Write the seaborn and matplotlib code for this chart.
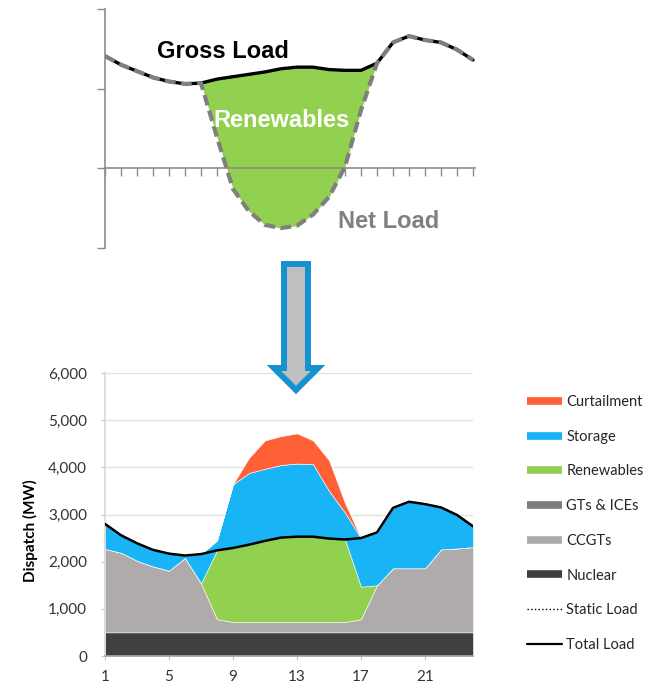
import numpy as np
import pandas as pd
import matplotlib
matplotlib.use('Agg')
import matplotlib.pyplot as plt
from matplotlib.patches import Polygon
from matplotlib.lines import Line2D
import seaborn as sns

# hours of the day
hours = list(range(1, 25))

# schematic (top) - normalised load
gross_load = [1.41, 1.30, 1.22, 1.14, 1.09, 1.06, 1.07, 1.12, 1.15, 1.18, 1.21, 1.25,
              1.27, 1.27, 1.24, 1.23, 1.23, 1.32, 1.58, 1.66, 1.61, 1.58, 1.49, 1.36]
net_load = [1.41, 1.30, 1.22, 1.14, 1.09, 1.06, 1.07, 0.39, -0.26, -0.54, -0.71, -0.75,
            -0.72, -0.58, -0.36, 0.02, 0.73, 1.32, 1.58, 1.66, 1.61, 1.58, 1.49, 1.36]

# dispatch (bottom) in MW
nuclear = [500] * 24
gts_ices = [0] * 24
ccgt = [1770, 1690, 1520, 1400, 1310, 1580, 1040, 280, 220, 220, 220, 220,
        220, 220, 220, 220, 280, 1000, 1360, 1360, 1360, 1760, 1780, 1810]
renewables = [0, 0, 0, 0, 0, 0, 0, 1460, 1570, 1640, 1720, 1790,
              1810, 1810, 1770, 1750, 690, 0, 0, 0, 0, 0, 0, 0]
storage = [530, 370, 370, 350, 360, 50, 620, 210, 1350, 1520, 1530, 1540,
           1550, 1540, 1010, 570, 1030, 1120, 1280, 1410, 1360, 890, 710, 440]
curtailment = [0, 0, 0, 0, 0, 0, 0, 0, 0, 320, 600, 610,
               640, 500, 650, 200, 0, 0, 0, 0, 0, 0, 0, 0]
static_load = [2800, 2560, 2390, 2250, 2170, 2130, 2160, 2240, 2290, 2360, 2440, 2510,
               2530, 2530, 2490, 2470, 2500, 2620, 3140, 3270, 3220, 3150, 2990, 2750]
total_load = [2800, 2560, 2390, 2250, 2170, 2130, 2160, 2240, 2290, 2360, 2440, 2510,
              2530, 2530, 2490, 2470, 2500, 2620, 3140, 3270, 3220, 3150, 2990, 2750]

legend_labels = ['Curtailment', 'Storage', 'Renewables', 'GTs & ICEs', 'CCGTs', 'Nuclear',
                 'Static Load', 'Total Load']

c_curt = '#FF6035'
c_stor = '#18B4F6'
c_ren = '#92D050'
c_gt = '#7F7B7B'
c_ccgt = '#AFABAB'
c_nuc = '#404040'

sns.set_theme(style='white')
plt.rcParams['font.family'] = ['Lato', 'DejaVu Sans']

df = pd.DataFrame({'hour': hours, 'gross': gross_load, 'net': net_load,
                   'total': total_load, 'static': static_load})

W, H = 650, 685
fig = plt.figure(figsize=(6.5, 6.85), dpi=100)

# ---- top schematic ----
ax1 = fig.add_axes([105 / W, 1 - 248 / H, 370 / W, 239 / H])
ax1.set_xlim(1, 24.125)
ax1.set_ylim(-1, 2)
ax1.fill_between(df['hour'], df['net'], df['gross'], color=c_ren, lw=0, zorder=1)
sns.lineplot(data=df, x='hour', y='gross', color='black', lw=2.4, ax=ax1, zorder=2)
ax1.plot(df['hour'], df['net'], color='#7f7f7f', lw=3, linestyle=(0, (2.6, 1.3)), zorder=3)
for s in ['top', 'right']:
    ax1.spines[s].set_visible(False)
ax1.spines['bottom'].set_position(('data', 0))
for s in ['left', 'bottom']:
    ax1.spines[s].set_color('#8c8c8c')
    ax1.spines[s].set_linewidth(1.2)
ax1.set_xticks(hours)
ax1.set_yticks([-1, 0, 1, 2])
ax1.tick_params(bottom=True, left=True, direction='out', length=5.8, width=1,
                color='#8c8c8c', labelbottom=False, labelleft=False)
ax1.set_xlabel('')
ax1.set_ylabel('')
ax1.text(8.39, 1.384, 'Gross Load', ha='center', va='baseline', fontsize=17,
         fontweight='bold', family='Liberation Sans', color='black')
ax1.text(12.02, 0.516, 'Renewables', ha='center', va='baseline', fontsize=17,
         fontweight='bold', family='Liberation Sans', color='white')
ax1.text(18.7, -0.755, 'Net Load', ha='center', va='baseline', fontsize=17,
         fontweight='bold', family='Liberation Sans', color='#808080')

# ---- bottom dispatch chart ----
ax2 = fig.add_axes([105 / W, 29 / H, 368 / W, 283 / H])
ax2.stackplot(hours, nuclear, gts_ices, ccgt, renewables, storage, curtailment,
              colors=[c_nuc, c_gt, c_ccgt, c_ren, c_stor, c_curt],
              edgecolor='white', linewidth=0.4, zorder=2)
sns.lineplot(data=df, x='hour', y='static', color='black', lw=1, linestyle=':', ax=ax2, zorder=3)
sns.lineplot(data=df, x='hour', y='total', color='black', lw=1.8, ax=ax2, zorder=4)
ax2.set_xlim(1, 24)
ax2.set_ylim(0, 6000)
ax2.set_xticks([1, 5, 9, 13, 17, 21])
ax2.set_yticks(range(0, 6001, 1000))
ax2.yaxis.set_major_formatter(matplotlib.ticker.FuncFormatter(lambda v, p: f'{v:,.0f}'))
ax2.yaxis.grid(True, color='#e3e3e3', lw=1)
ax2.set_axisbelow(True)
ax2.tick_params(bottom=True, left=True, direction='out', length=3, width=0.8,
                color='#c8c8c8', labelsize=11, labelcolor='#333333')
ax2.tick_params(axis='y', pad=10)
ax2.tick_params(axis='x', pad=7)
for s in ['top', 'right']:
    ax2.spines[s].set_visible(False)
ax2.spines['left'].set_color('#d9d9d9')
ax2.spines['bottom'].set_color('#a6a6a6')
ax2.set_xlabel('')
ax2.set_ylabel('Dispatch (MW)', fontsize=11, fontweight='bold', color='black')
ax2.yaxis.set_label_coords((38 - 105) / 368, (656 - 531) / 283)

# legend
handles = [Line2D([], [], color=c, lw=5.5, solid_capstyle='butt')
           for c in [c_curt, c_stor, c_ren, c_gt, c_ccgt, c_nuc]]
handles.append(Line2D([], [], color='black', lw=1, linestyle=':'))
handles.append(Line2D([], [], color='black', lw=1.6))
fig.legend(handles, legend_labels, loc='upper left', bbox_to_anchor=(527 / W, 1 - 395 / H),
           frameon=False, fontsize=10.5, handlelength=2.4, labelspacing=1.42,
           handletextpad=0.3, borderpad=0, borderaxespad=0)

# arrow between the two panels
cx, top, hb, tip = 296, 264, 368, 390
pts = [(cx - 12, top), (cx + 12, top), (cx + 12, hb), (cx + 22, hb), (cx, tip),
       (cx - 22, hb), (cx - 12, hb)]
arrow = Polygon([(x / W, 1 - y / H) for x, y in pts], closed=True, transform=fig.transFigure,
                facecolor='#bfbfbf', edgecolor='#1592D0', lw=4.3, joinstyle='miter', zorder=10)
fig.add_artist(arrow)

fig.savefig('out.png', dpi=100)
